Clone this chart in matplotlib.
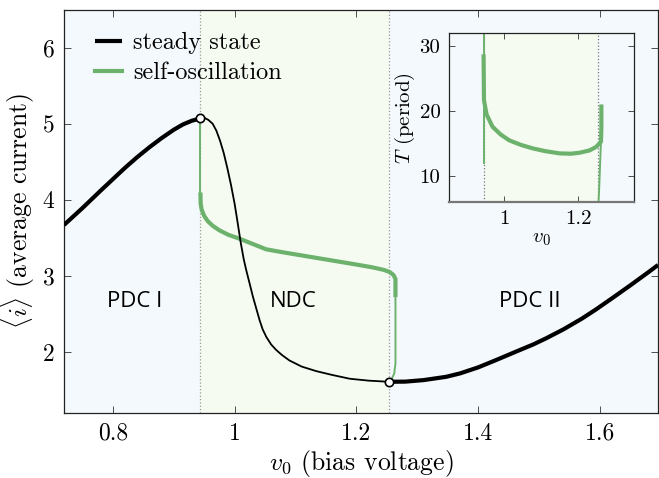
import matplotlib
matplotlib.use("Agg")
import matplotlib.pyplot as plt
from matplotlib.ticker import FuncFormatter

plt.rcParams['font.family'] = ['cmr10']
plt.rcParams['mathtext.fontset'] = 'cm'
plt.rcParams['axes.unicode_minus'] = False
plt.rcParams['axes.formatter.use_mathtext'] = True

# ---------------- data ----------------
v_left = [0.72, 0.75, 0.78, 0.80, 0.82, 0.84, 0.86, 0.88, 0.90, 0.915, 0.93, 0.944]
i_left = [3.67, 3.89, 4.12, 4.27, 4.42, 4.56, 4.69, 4.81, 4.92, 4.99, 5.04, 5.07]

v_unst = [0.944, 0.950, 0.957, 0.964, 0.970, 0.976, 0.982, 0.988, 0.994, 1.000, 1.005,
          1.010, 1.015, 1.019, 1.025, 1.030, 1.036, 1.041, 1.046, 1.052, 1.060, 1.068,
          1.078, 1.090, 1.11, 1.134, 1.16, 1.189, 1.22, 1.253]
i_unst = [5.07, 5.08, 5.05, 5.00, 4.91, 4.78, 4.62, 4.42, 4.20, 3.95, 3.70,
          3.44, 3.22, 3.08, 2.89, 2.73, 2.56, 2.42, 2.30, 2.20, 2.10, 2.03,
          1.96, 1.89, 1.81, 1.75, 1.70, 1.65, 1.625, 1.61]

v_right = [1.253, 1.28, 1.31, 1.347, 1.37, 1.40, 1.429, 1.46, 1.49, 1.511, 1.54,
           1.57, 1.593, 1.62, 1.65, 1.68, 1.695]
i_right = [1.61, 1.612, 1.632, 1.675, 1.72, 1.80, 1.895, 2.00, 2.10, 2.18, 2.30,
           2.44, 2.56, 2.71, 2.88, 3.055, 3.145]

# self-oscillation (average current)
v_osc_thin1 = [0.944, 0.944]
i_osc_thin1 = [5.07, 4.07]
v_osc = [0.944, 0.9443, 0.946, 0.950, 0.956, 0.964, 0.975, 0.99, 1.008, 1.03, 1.052,
         1.08, 1.11, 1.14, 1.17, 1.20, 1.225, 1.245, 1.255, 1.261, 1.264, 1.264]
i_osc = [4.07, 3.95, 3.87, 3.79, 3.72, 3.66, 3.60, 3.54, 3.49, 3.42, 3.35,
         3.31, 3.27, 3.23, 3.19, 3.15, 3.115, 3.08, 3.05, 3.01, 2.96, 2.75]
v_osc_thin2 = [1.264, 1.264, 1.262, 1.258, 1.253]
i_osc_thin2 = [2.75, 1.85, 1.72, 1.65, 1.61]

# bifurcation points
v_bif = [0.944, 1.253]
i_bif = [5.07, 1.61]

# period (inset)
v_T_thin1 = [0.944, 0.944]
T_thin1 = [12.0, 33.0]
v_T = [0.944, 0.945, 0.952, 0.968, 0.99, 1.0135, 1.045, 1.077, 1.11, 1.149, 1.18,
       1.203, 1.23, 1.248, 1.261, 1.262, 1.262]
T_T = [28.4, 21.7, 19.5, 17.6, 16.4, 15.5, 14.8, 14.26, 13.85, 13.5, 13.45,
       13.6, 13.95, 14.5, 15.3, 17.5, 20.7]
v_T_thin2 = [1.2535, 1.256, 1.258, 1.260, 1.261]
T_thin2 = [5.0, 8.0, 11.0, 14.0, 15.3]

regions = ["PDC I", "NDC", "PDC II"]
region_v = [0.836, 1.097, 1.484]
region_i = [2.67, 2.67, 2.67]

xticks = [0.8, 1.0, 1.2, 1.4, 1.6]
yticks = [2, 3, 4, 5, 6]
inset_xticks = [1.0, 1.2]
inset_yticks = [10, 20, 30]

# ---------------- style ----------------
GREEN = '#6cb26c'
BG = '#f4f9fd'
BAND = '#f5fbf0'
fmt = FuncFormatter(lambda x, p: ('%g' % x))

fig = plt.figure(figsize=(6.59, 4.78), dpi=100)
ax = fig.add_axes([0.0971, 0.136, 0.9015, 0.844])
ax.set_facecolor(BG)
ax.axvspan(v_bif[0], v_bif[1], color=BAND, zorder=0, lw=0)
for vb in v_bif:
    ax.axvline(vb, color='#999999', ls=':', lw=0.9, zorder=1)

ax.plot(v_left, i_left, color='black', lw=3.0, solid_capstyle='butt', zorder=3,
        label='steady state')
ax.plot(v_unst, i_unst, color='black', lw=1.3, zorder=3)
ax.plot(v_right, i_right, color='black', lw=3.0, solid_capstyle='butt', zorder=3)

ax.plot(v_osc_thin1, i_osc_thin1, color=GREEN, lw=1.4, zorder=2)
ax.plot(v_osc, i_osc, color=GREEN, lw=3.0, zorder=2, label='self-oscillation')
ax.plot(v_osc_thin2, i_osc_thin2, color=GREEN, lw=1.4, zorder=2)

ax.plot(v_bif, i_bif, ls='none', marker='o', ms=6, mfc='white', mec='black',
        mew=1.2, zorder=5)

for t, xv, yv in zip(regions, region_v, region_i):
    ax.text(xv, yv, t, family='Open Sans', fontsize=16, ha='center', va='center')

ax.set_xlim(0.72, 1.695)
ax.set_ylim(1.2, 6.5)
ax.set_xticks(xticks)
ax.set_yticks(yticks)
ax.xaxis.set_major_formatter(fmt)
ax.yaxis.set_major_formatter(fmt)
ax.tick_params(direction='in', top=True, right=True, labelsize=17, length=5,
               width=0.6, color='#333333', pad=7)
for s in ax.spines.values():
    s.set_linewidth(0.9)
    s.set_color('#222222')
ax.set_xlabel(r'$v_0$ (bias voltage)', fontsize=18.5, labelpad=2)
ax.set_ylabel(r'$\langle i\rangle$ (average current)', fontsize=18.5, labelpad=4)

leg = ax.legend(loc='upper left', frameon=False, fontsize=17.5, handlelength=1.15,
                handletextpad=0.45, borderaxespad=0.0, labelspacing=0.33,
                bbox_to_anchor=(0.035, 0.968))

# ---------------- inset ----------------
ax2 = fig.add_axes([0.681, 0.577, 0.281, 0.354])
ax2.set_facecolor(BG)
ax2.axvspan(v_bif[0], v_bif[1], color=BAND, zorder=0, lw=0)
for vb in v_bif:
    ax2.axvline(vb, color='#777777', ls=':', lw=0.9, zorder=1)
ax2.plot(v_T_thin1, T_thin1, color=GREEN, lw=1.4, zorder=2)
ax2.plot(v_T, T_T, color=GREEN, lw=3.0, zorder=3)
ax2.plot(v_T_thin2, T_thin2, color=GREEN, lw=1.4, zorder=2)
ax2.set_xlim(0.85, 1.35)
ax2.set_ylim(6, 32)
ax2.set_xticks(inset_xticks)
ax2.set_yticks(inset_yticks)
ax2.xaxis.set_major_formatter(fmt)
ax2.yaxis.set_major_formatter(fmt)
ax2.tick_params(direction='in', top=True, right=True, labelsize=15, length=4,
                width=0.6, color='#333333', pad=6)
for s in ax2.spines.values():
    s.set_linewidth(0.9)
    s.set_color('#222222')
ax2.spines['bottom'].set_color('#777777')
ax2.spines['bottom'].set_linewidth(1.6)
ax2.set_xlabel(r'$v_0$', fontsize=15, labelpad=1)
ax2.set_ylabel(r'$T$ (period)', fontsize=15, labelpad=2)

fig.savefig('out.png', dpi=100)
